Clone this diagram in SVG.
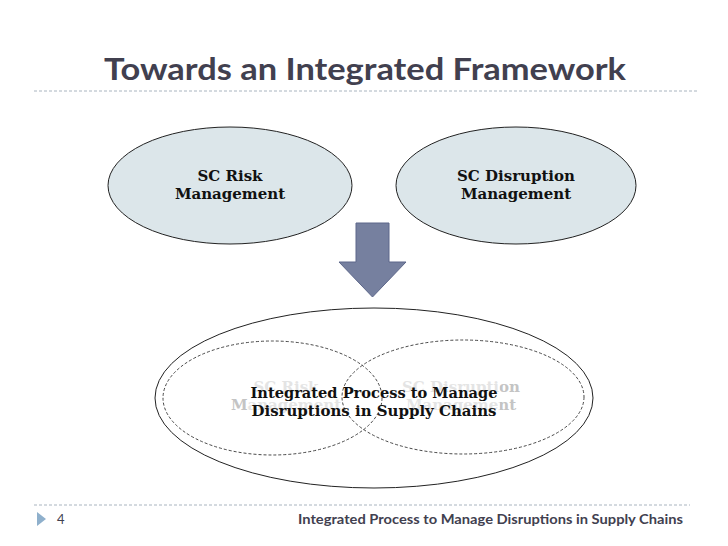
<svg xmlns="http://www.w3.org/2000/svg" width="728" height="546" viewBox="0 0 728 546">
<style>
.title{font-family:Lato,"Open Sans","Liberation Sans",sans-serif;font-weight:bold;fill:#41404f}
.lbl{font-family:"DejaVu Serif","Liberation Serif",serif;font-weight:bold;font-size:15px;fill:#111;text-anchor:middle}
.faded{font-family:"DejaVu Serif","Liberation Serif",serif;font-weight:bold;font-size:15px;fill:#c4c4c4;text-anchor:middle}
.sep{stroke:#a9b4bf;stroke-width:1;stroke-dasharray:3 2;fill:none}
.node{fill:#dce6ea;stroke:#222;stroke-width:1}
.dash{fill:none;stroke:#333;stroke-width:0.9;stroke-dasharray:3 2}
</style>
<rect width="728" height="546" fill="#fff"/>
<text class="title" x="104" y="80" font-size="30" textLength="522" lengthAdjust="spacingAndGlyphs">Towards an Integrated Framework</text>
<line class="sep" x1="34" y1="91" x2="697" y2="91"/>
<g id="sc-risk">
<ellipse class="node" cx="230" cy="185.500" rx="122" ry="58.500"/>
<text class="lbl" x="230" y="181">SC Risk</text>
<text class="lbl" x="230" y="199">Management</text>
</g>
<g id="sc-disruption">
<ellipse class="node" cx="516" cy="185.500" rx="120" ry="58.500"/>
<text class="lbl" x="516" y="181">SC Disruption</text>
<text class="lbl" x="516" y="199">Management</text>
</g>
<g id="connectors">
<path d="M356 223 H389 V262 H406 L372.500 297 L339 262 H356 Z" fill="#76809f" stroke="#5d678a" stroke-width="1"/>
</g>
<g id="integrated">
<ellipse cx="374" cy="398" rx="219" ry="90" fill="#fff" stroke="#222" stroke-width="1"/>
<text class="faded" x="286" y="392">SC Risk</text>
<text class="faded" x="286" y="410">Management</text>
<text class="faded" x="461" y="392">SC Disruption</text>
<text class="faded" x="461" y="410">Management</text>
<rect x="248" y="381" width="252" height="38" fill="#fff" fill-opacity="0.55"/>
<ellipse class="dash" cx="272.500" cy="398" rx="109.500" ry="57"/>
<ellipse class="dash" cx="463" cy="397" rx="121" ry="57"/>
<text class="lbl" x="374" y="398" font-size="15.500" textLength="247" lengthAdjust="spacingAndGlyphs">Integrated Process to Manage</text>
<text class="lbl" x="374" y="416" font-size="15.500" textLength="245" lengthAdjust="spacingAndGlyphs">Disruptions in Supply Chains</text>
</g>
<line class="sep" x1="34" y1="505" x2="690" y2="505"/>
<path d="M37 512 L46 519 L37 526 Z" fill="#8fb0cc"/>
<text x="57" y="524" font-family="Lato,'Liberation Sans',sans-serif" font-size="13" fill="#41404f">4</text>
<text class="title" x="683" y="524" font-size="13.500" text-anchor="end" textLength="385" lengthAdjust="spacingAndGlyphs">Integrated Process to Manage Disruptions in Supply Chains</text>
</svg>
